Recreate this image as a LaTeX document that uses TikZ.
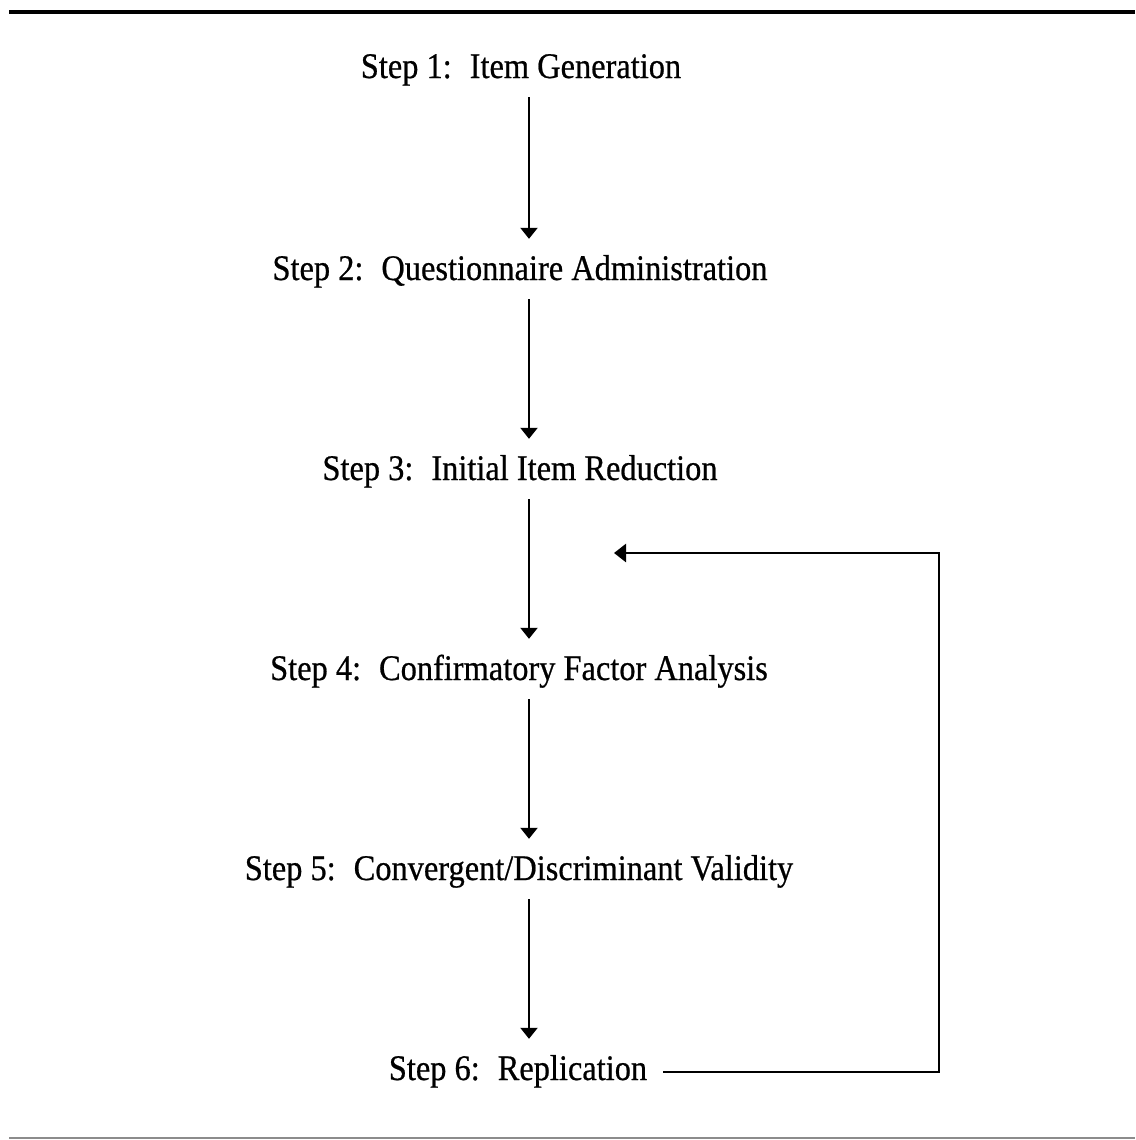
\documentclass[tikz,border=0pt]{standalone}
\usepackage{fontspec}
\setmainfont{Liberation Serif}[FakeStretch=0.9, FakeBold=0.6]
\usetikzlibrary{arrows.meta}
\begin{document}
\begin{tikzpicture}[x=1pt,y=-1pt,
  stepnode/.style={anchor=base, inner sep=0pt, text height=24pt, text depth=8pt,
    font=\fontsize{36}{42}\selectfont},
  flow/.style={line width=2.2pt, -{Triangle[length=11pt,width=17pt]},
    shorten <=11pt, shorten >=17pt},
  feedback/.style={line width=2.6pt, -{Triangle[length=12pt,width=18pt]}, shorten <=16pt},
  rule/.style={line width=4pt}
]
\useasboundingbox (0,0) rectangle (1135,1140);

% horizontal rules framing the figure
\draw[rule] (9,12) -- (1135,12);
\draw[line width=2pt, black!45] (9,1138) -- (1135,1138);

% the six steps
\node[stepnode] (s1) at (521,78)   {Step 1:\hspace{0.5em}Item Generation};
\node[stepnode] (s2) at (520,280)  {Step 2:\hspace{0.5em}Questionnaire Administration};
\node[stepnode] (s3) at (520,480)  {Step 3:\hspace{0.5em}Initial Item Reduction};
\node[stepnode] (s4) at (519,680)  {Step 4:\hspace{0.5em}Confirmatory Factor Analysis};
\node[stepnode] (s5) at (519,880)  {Step 5:\hspace{0.5em}Convergent/Discriminant Validity};
\node[stepnode] (s6) at (518,1080) {Step 6:\hspace{0.5em}Replication};

% vertical axis of the flow arrows
\coordinate (ax) at (529,0);
\draw[flow] (s1.south -| ax) -- (s2.north -| ax);
\draw[flow] (s2.south -| ax) -- (s3.north -| ax);
\draw[flow] (s3.south -| ax) -- (s4.north -| ax);
\draw[flow] (s4.south -| ax) -- (s5.north -| ax);
\draw[flow] (s5.south -| ax) -- (s6.north -| ax);

% feedback loop from replication back to item reduction
\coordinate (fbcorner) at (939,553);
\coordinate (fbtip) at (614,553);
\draw[feedback] (s6.east) -- (s6.east -| fbcorner) -- (fbcorner) -- (fbtip);
\end{tikzpicture}
\end{document}
